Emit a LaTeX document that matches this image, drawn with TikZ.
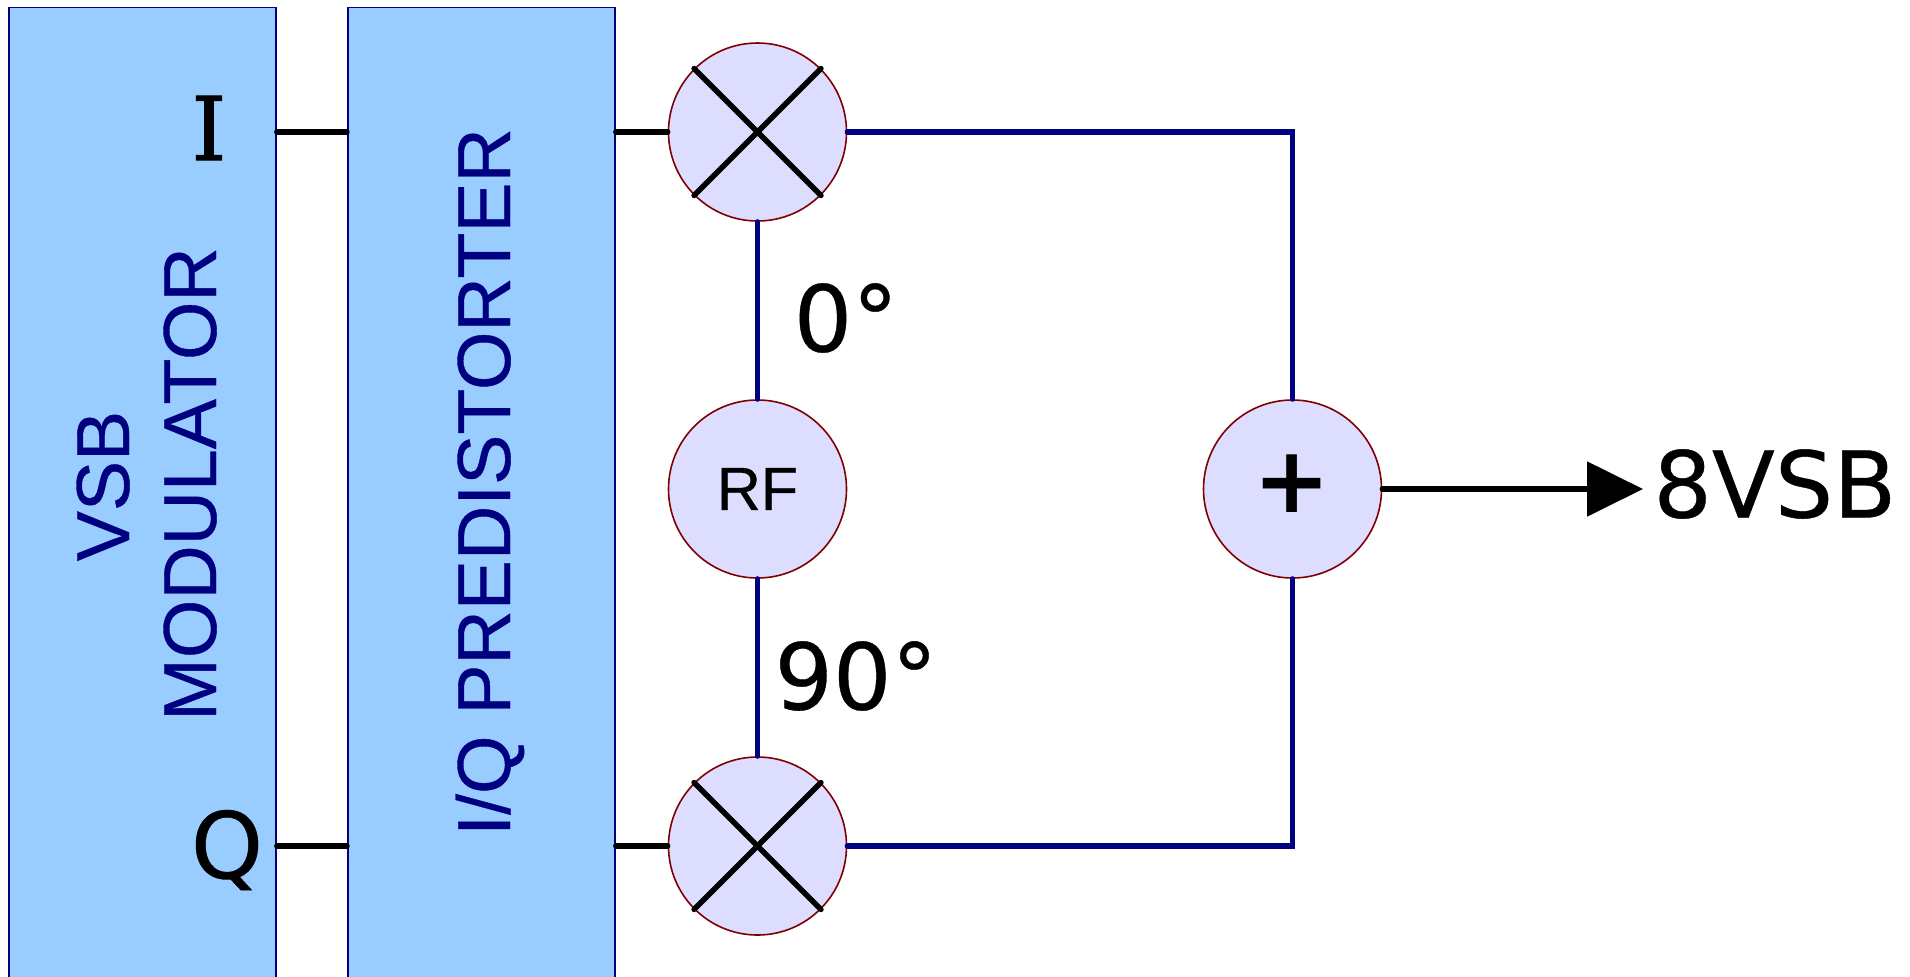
\documentclass[tikz,border=0pt]{standalone}
\usepackage{fontspec}
\setmainfont{DejaVu Sans}
\newfontfamily\slabf[FakeBold=1.2]{DejaVu Serif}
\newfontfamily\armf[FakeBold=0.5]{Liberation Sans}
\newfontfamily\dejaheavy[FakeBold=0.4]{DejaVu Sans}
\usetikzlibrary{arrows.meta}
\definecolor{navyline}{HTML}{000080}
\definecolor{boxfill}{HTML}{99CCFF}
\definecolor{circfill}{HTML}{DDDDFF}
\definecolor{circline}{HTML}{800000}
\tikzset{
  x=0.5pt,y=-0.5pt,
  blockbox/.style={draw=navyline,line width=0.9pt,fill=boxfill,minimum width=133.5pt,minimum height=500pt,inner sep=0pt,rectangle,anchor=north west},
  circ/.style={circle,draw=circline,line width=0.8pt,fill=circfill,minimum size=89pt,inner sep=0pt},
  blk/.style={draw=black,line width=2.7pt,line cap=round},
  nav/.style={draw=navyline,line width=2.6pt,line cap=round},
  lbl/.style={inner sep=0pt,text=black},
  vlbl/.style={inner sep=0pt,text=navyline,rotate=90,anchor=base,font=\armf\fontsize{37.6}{37.6}\selectfont},
}
\begin{document}
\begin{tikzpicture}
\clip (0,0) rectangle (1910,976);
\node[blockbox] (vsb) at (8,6.5) {};
\node[blockbox] (pre) at (347,6.5) {};
\node[circ] (mixi) at (757.5,132) {};
\node[circ] (rf) at (757.5,489) {\armf\fontsize{30.5}{30.5}\selectfont RF};
\node[circ] (mixq) at (757.5,846) {};
\node[circ] (sum) at (1292.5,489) {};
\node[lbl,font=\fontsize{46}{46}\selectfont\bfseries] (plus) at (1292.5,484) {+};
\coordinate (ci) at (1292.5,132);
\coordinate (cq) at (1292.5,846);
\foreach \m in {mixi,mixq}{
  \draw[blk] (\m.45) -- (\m.225);
  \draw[blk] (\m.135) -- (\m.315);
}
\draw[blk] (vsb.east |- mixi) -- (pre.west |- mixi);
\draw[blk] (vsb.east |- mixq) -- (pre.west |- mixq);
\draw[blk] (pre.east |- mixi) -- (mixi.west);
\draw[blk] (pre.east |- mixq) -- (mixq.west);
\draw[nav] (mixi.south) -- (rf.north);
\draw[nav] (rf.south) -- (mixq.north);
\draw[nav] (mixi.east) -- (ci) -- (sum.north);
\draw[nav] (mixq.east) -- (cq) -- (sum.south);
\coordinate (tip) at (1643,489);
\draw[blk,-{Triangle[length=28pt,width=27pt]}] (sum.east) -- (tip);
\node[lbl,font=\dejaheavy\fontsize{46}{46}\selectfont,anchor=west] (out) at (1653,484) {8VSB};
\node[lbl,font=\dejaheavy\fontsize{46}{46}\selectfont] (zero) at (846,318) {0°};
\node[lbl,font=\dejaheavy\fontsize{46}{46}\selectfont] (ninety) at (856,676) {90°};
\node[lbl,font=\fontsize{44}{44}\selectfont\slabf] (ilbl) at (209,128) {I};
\node[lbl,font=\dejaheavy\fontsize{46}{46}\selectfont] (qlbl) at (227,850) {Q};
\node[vlbl] (tvsb) at (129,486) {VSB};
\node[vlbl] (tmod) at (216,484) {MODULATOR};
\node[vlbl] (tpre) at (510,482) {I/Q PREDISTORTER};
\end{tikzpicture}
\end{document}
